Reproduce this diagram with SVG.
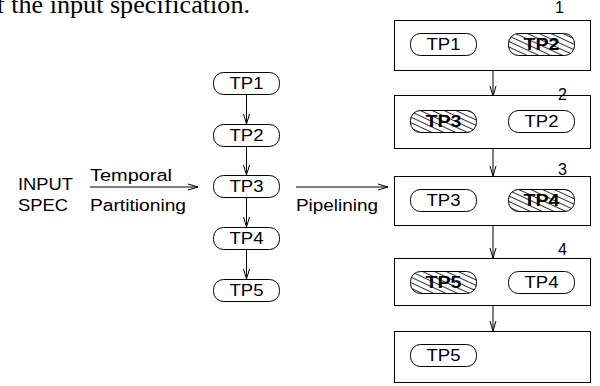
<svg xmlns="http://www.w3.org/2000/svg" width="600" height="386" viewBox="0 0 600 386">
<defs>
<marker id="ah" markerWidth="12" markerHeight="8" refX="10" refY="4" orient="auto" markerUnits="userSpaceOnUse">
<path d="M0,1 L10,4 L0,7" fill="none" stroke="#000" stroke-width="1"/>
</marker>
<pattern id="hatch" width="5" height="5" patternUnits="userSpaceOnUse" patternTransform="rotate(25)">
<rect width="5" height="5" fill="#fff"/>
<line x1="0" y1="2.5" x2="5" y2="2.5" stroke="#000" stroke-width="0.8"/>
</pattern>
</defs>
<style>
text{font-family:"Liberation Sans",Arial,sans-serif;font-size:16px;fill:#000}
.cap{font-family:"Liberation Serif","Times New Roman",serif;font-size:26px}
.pill{fill:#fff;stroke:#000;stroke-width:1}
.hp{fill:url(#hatch);stroke:#000;stroke-width:1}
.box{fill:#fff;stroke:#000;stroke-width:1}
.b{font-weight:bold}
.c{stroke:#000;stroke-width:1;fill:none;marker-end:url(#ah)}
</style>
<rect width="600" height="386" fill="#fff"/>
<text class="cap" x="-4" y="13" textLength="254" lengthAdjust="spacingAndGlyphs">f the input specification.</text>

<g id="labels">
<text x="18" y="190" textLength="55" lengthAdjust="spacingAndGlyphs">INPUT</text>
<text x="18" y="211" textLength="50" lengthAdjust="spacingAndGlyphs">SPEC</text>
<text x="90" y="181" textLength="82" lengthAdjust="spacingAndGlyphs">Temporal</text>
<text x="90" y="211" textLength="96" lengthAdjust="spacingAndGlyphs">Partitioning</text>
<text x="296" y="211" textLength="82" lengthAdjust="spacingAndGlyphs">Pipelining</text>
</g>

<g id="connectors">
<line class="c" x1="90" y1="187" x2="198" y2="187"/>
<line class="c" x1="296" y1="187" x2="388" y2="187"/>
<line class="c" x1="246.5" y1="94" x2="246.5" y2="124"/>
<line class="c" x1="246.5" y1="146" x2="246.5" y2="175"/>
<line class="c" x1="246.5" y1="197" x2="246.5" y2="227"/>
<line class="c" x1="246.5" y1="249" x2="246.5" y2="279"/>
<line class="c" x1="493" y1="71" x2="493" y2="96"/>
<line class="c" x1="493" y1="149" x2="493" y2="176"/>
<line class="c" x1="493" y1="226" x2="493" y2="258"/>
<line class="c" x1="493" y1="306" x2="493" y2="331"/>
</g>

<g id="tp1"><rect class="pill" x="213.5" y="72.5" width="66" height="22" rx="10"/><text x="246.5" y="89" text-anchor="middle" textLength="34" lengthAdjust="spacingAndGlyphs">TP1</text></g>
<g id="tp2"><rect class="pill" x="213.5" y="124.5" width="66" height="22" rx="10"/><text x="246.5" y="141" text-anchor="middle" textLength="34" lengthAdjust="spacingAndGlyphs">TP2</text></g>
<g id="tp3"><rect class="pill" x="213.5" y="175.5" width="66" height="22" rx="10"/><text x="246.5" y="192" text-anchor="middle" textLength="34" lengthAdjust="spacingAndGlyphs">TP3</text></g>
<g id="tp4"><rect class="pill" x="213.5" y="227.5" width="66" height="22" rx="10"/><text x="246.5" y="244" text-anchor="middle" textLength="34" lengthAdjust="spacingAndGlyphs">TP4</text></g>
<g id="tp5"><rect class="pill" x="213.5" y="279.5" width="66" height="22" rx="10"/><text x="246.5" y="296" text-anchor="middle" textLength="34" lengthAdjust="spacingAndGlyphs">TP5</text></g>

<g id="stage1">
<rect class="box" x="394.5" y="20.5" width="196" height="50"/>
<text x="555" y="13">1</text>
<rect class="pill" x="410.5" y="33.5" width="66" height="22" rx="10"/>
<text x="443.5" y="50" text-anchor="middle" textLength="34" lengthAdjust="spacingAndGlyphs">TP1</text>
<rect class="hp" x="508.5" y="33.5" width="66" height="22" rx="10"/>
<text class="b" x="541.5" y="50" text-anchor="middle" textLength="36" lengthAdjust="spacingAndGlyphs">TP2</text>
</g>
<g id="stage2">
<rect class="box" x="394.5" y="95.5" width="196" height="53"/>
<text x="558" y="100">2</text>
<rect class="hp" x="410.5" y="110.5" width="66" height="22" rx="10"/>
<text class="b" x="443.5" y="127" text-anchor="middle" textLength="36" lengthAdjust="spacingAndGlyphs">TP3</text>
<rect class="pill" x="508.5" y="110.5" width="66" height="22" rx="10"/>
<text x="541.5" y="127" text-anchor="middle" textLength="34" lengthAdjust="spacingAndGlyphs">TP2</text>
</g>
<g id="stage3">
<rect class="box" x="394.5" y="176.5" width="196" height="49"/>
<text x="558" y="175">3</text>
<rect class="pill" x="410.5" y="189.5" width="66" height="22" rx="10"/>
<text x="443.5" y="206" text-anchor="middle" textLength="34" lengthAdjust="spacingAndGlyphs">TP3</text>
<rect class="hp" x="508.5" y="189.5" width="66" height="22" rx="10"/>
<text class="b" x="541.5" y="206" text-anchor="middle" textLength="36" lengthAdjust="spacingAndGlyphs">TP4</text>
</g>
<g id="stage4">
<rect class="box" x="394.5" y="258.5" width="196" height="47"/>
<text x="558" y="255">4</text>
<rect class="hp" x="410.5" y="271.5" width="66" height="22" rx="10"/>
<text class="b" x="443.5" y="288" text-anchor="middle" textLength="36" lengthAdjust="spacingAndGlyphs">TP5</text>
<rect class="pill" x="508.5" y="271.5" width="66" height="22" rx="10"/>
<text x="541.5" y="288" text-anchor="middle" textLength="34" lengthAdjust="spacingAndGlyphs">TP4</text>
</g>
<g id="stage5">
<rect class="box" x="394.5" y="331.5" width="196" height="51"/>
<rect class="pill" x="410.5" y="344.5" width="66" height="22" rx="10"/>
<text x="443.5" y="361" text-anchor="middle" textLength="34" lengthAdjust="spacingAndGlyphs">TP5</text>
</g>
</svg>
